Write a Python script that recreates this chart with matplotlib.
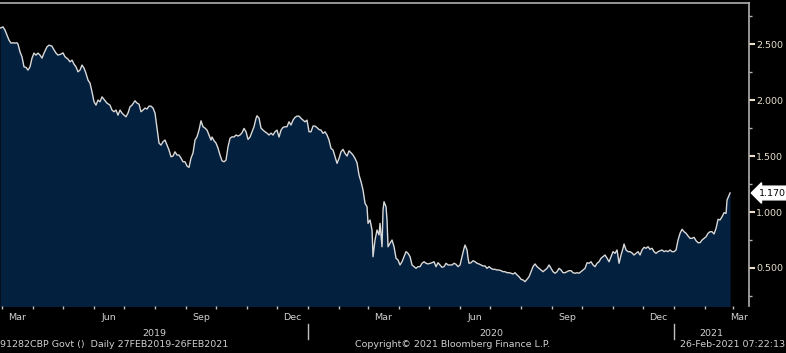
import numpy as np
import matplotlib
matplotlib.use("Agg")
import matplotlib.pyplot as plt
import matplotlib.dates as mdates
import matplotlib.transforms as mtransforms
from matplotlib.ticker import FuncFormatter, MultipleLocator

# Daily yield, 27FEB2019 - 26FEB2021
start_date = np.datetime64("2019-02-27")
day_offsets = [
    0, 3, 5, 7, 9, 11, 13, 15, 17, 18, 20, 22, 24, 26, 28, 30, 32, 34, 36, 38,
    40, 42, 44, 47, 49, 52, 53, 56, 58, 61, 63, 65, 68, 70, 72, 74, 76, 78, 80, 82,
    84, 86, 88, 90, 92, 94, 96, 98, 100, 102, 104, 107, 110, 112, 114, 116, 118, 120, 122, 124,
    126, 128, 130, 132, 135, 137, 139, 141, 143, 145, 147, 149, 151, 153, 155, 157, 159, 161, 163, 165,
    167, 169, 171, 173, 175, 177, 179, 181, 183, 185, 187, 189, 191, 193, 195, 197, 199, 201, 203, 205,
    207, 209, 211, 212, 214, 216, 218, 220, 222, 224, 226, 228, 230, 232, 234, 236, 238, 240, 242, 244,
    246, 248, 250, 252, 254, 256, 257, 259, 261, 263, 265, 267, 269, 271, 273, 275, 277, 279, 281, 283,
    285, 287, 289, 291, 293, 295, 297, 299, 301, 303, 305, 307, 309, 311, 313, 315, 317, 319, 321, 323,
    325, 327, 329, 331, 333, 335, 337, 339, 341, 343, 345, 347, 349, 351, 353, 355, 357, 359, 361, 363,
    365, 367, 368, 370, 372, 373, 375, 377, 379, 380, 382, 383, 384, 386, 387, 388, 390, 392, 394, 396,
    398, 400, 402, 404, 406, 408, 410, 412, 414, 416, 418, 420, 422, 424, 426, 428, 430, 432, 434, 436,
    438, 440, 442, 444, 446, 448, 450, 452, 454, 456, 458, 460, 462, 464, 465, 467, 468, 469, 471, 473,
    475, 477, 479, 481, 483, 485, 487, 489, 491, 493, 495, 497, 499, 501, 503, 505, 507, 509, 511, 513,
    515, 517, 519, 521, 523, 525, 527, 529, 531, 533, 535, 537, 539, 541, 543, 545, 547, 549, 551, 553,
    555, 557, 559, 561, 563, 565, 567, 569, 571, 573, 575, 577, 579, 581, 583, 585, 587, 589, 591, 593,
    595, 597, 599, 601, 603, 605, 607, 609, 611, 613, 615, 617, 619, 621, 623, 624, 626, 628, 630, 632,
    634, 636, 638, 640, 642, 644, 646, 648, 650, 652, 654, 656, 658, 660, 662, 664, 666, 668, 670, 672,
    674, 676, 678, 680, 682, 684, 686, 688, 690, 692, 694, 696, 698, 700, 702, 704, 706, 708, 710, 712,
    714, 716, 718, 720, 722, 724, 726, 727, 730,
]
yields = [
    2.643, 2.654, 2.625, 2.580, 2.536, 2.509, 2.512, 2.509, 2.512, 2.500, 2.431, 2.386, 2.297, 2.292, 2.268, 2.297, 2.375, 2.420, 2.402, 2.420,
    2.402, 2.375, 2.420, 2.476, 2.491, 2.482, 2.464, 2.420, 2.402, 2.411, 2.422, 2.387, 2.366, 2.342, 2.357, 2.321, 2.297, 2.253, 2.268, 2.313,
    2.286, 2.238, 2.179, 2.152, 2.074, 1.985, 1.955, 2.000, 1.985, 2.029, 2.006, 1.973, 1.955, 1.911, 1.896, 1.911, 1.866, 1.911, 1.884, 1.866,
    1.851, 1.884, 1.940, 1.955, 1.994, 1.973, 1.964, 1.896, 1.911, 1.929, 1.920, 1.946, 1.946, 1.929, 1.884, 1.750, 1.616, 1.598, 1.628, 1.643,
    1.598, 1.554, 1.494, 1.500, 1.538, 1.509, 1.509, 1.482, 1.449, 1.449, 1.411, 1.399, 1.482, 1.527, 1.643, 1.672, 1.732, 1.815, 1.762, 1.750,
    1.732, 1.688, 1.643, 1.670, 1.637, 1.616, 1.571, 1.509, 1.458, 1.449, 1.464, 1.583, 1.658, 1.672, 1.670, 1.688, 1.679, 1.688, 1.708, 1.747,
    1.717, 1.649, 1.670, 1.717, 1.762, 1.837, 1.860, 1.839, 1.750, 1.732, 1.717, 1.705, 1.688, 1.705, 1.688, 1.717, 1.732, 1.670, 1.732, 1.756,
    1.762, 1.762, 1.806, 1.777, 1.821, 1.846, 1.857, 1.857, 1.837, 1.821, 1.806, 1.821, 1.717, 1.717, 1.768, 1.768, 1.754, 1.737, 1.732, 1.703,
    1.717, 1.688, 1.643, 1.569, 1.554, 1.494, 1.435, 1.479, 1.538, 1.560, 1.524, 1.500, 1.547, 1.529, 1.509, 1.479, 1.440, 1.330, 1.271, 1.196,
    1.078, 1.047, 0.899, 0.929, 0.839, 0.601, 0.750, 0.839, 0.795, 0.899, 0.690, 1.018, 1.092, 1.047, 0.929, 0.690, 0.721, 0.750, 0.690, 0.587,
    0.571, 0.527, 0.556, 0.601, 0.646, 0.631, 0.601, 0.527, 0.512, 0.497, 0.512, 0.512, 0.542, 0.556, 0.542, 0.536, 0.542, 0.547, 0.556, 0.512,
    0.547, 0.527, 0.506, 0.512, 0.542, 0.527, 0.527, 0.527, 0.542, 0.533, 0.512, 0.527, 0.601, 0.676, 0.705, 0.661, 0.587, 0.542, 0.547, 0.565,
    0.556, 0.542, 0.536, 0.527, 0.518, 0.518, 0.497, 0.512, 0.497, 0.488, 0.488, 0.482, 0.482, 0.476, 0.467, 0.467, 0.458, 0.458, 0.453, 0.446,
    0.458, 0.438, 0.422, 0.399, 0.393, 0.378, 0.399, 0.422, 0.467, 0.512, 0.536, 0.512, 0.497, 0.482, 0.467, 0.482, 0.497, 0.527, 0.497, 0.467,
    0.453, 0.467, 0.497, 0.482, 0.458, 0.458, 0.467, 0.476, 0.476, 0.458, 0.453, 0.458, 0.453, 0.467, 0.482, 0.497, 0.547, 0.542, 0.556, 0.527,
    0.512, 0.542, 0.556, 0.587, 0.601, 0.616, 0.587, 0.556, 0.601, 0.646, 0.631, 0.661, 0.542, 0.616, 0.676, 0.714, 0.661, 0.646, 0.646, 0.634,
    0.616, 0.631, 0.646, 0.616, 0.661, 0.685, 0.676, 0.690, 0.667, 0.676, 0.646, 0.631, 0.646, 0.654, 0.661, 0.646, 0.654, 0.646, 0.661, 0.646,
    0.646, 0.661, 0.750, 0.810, 0.846, 0.824, 0.810, 0.786, 0.765, 0.765, 0.774, 0.744, 0.726, 0.726, 0.750, 0.765, 0.779, 0.810, 0.824, 0.824,
    0.804, 0.854, 0.935, 0.929, 0.958, 0.994, 0.988, 1.107, 1.170,
]
last_value = 1.170
shown_months = {3: "Mar", 6: "Jun", 9: "Sep", 12: "Dec"}
years = ["2019", "2020", "2021"]
footer_left = "91282CBP Govt ()  Daily 27FEB2019-26FEB2021"
footer_mid = "Copyright\u00a9 2021 Bloomberg Finance L.P."
footer_right = "26-Feb-2021 07:22:13"

dates = start_date + np.array(day_offsets).astype("timedelta64[D]")
x_end = start_date + np.timedelta64(749, "D")

fill_col = "#04203f"
line_col = "#d9d9d9"
text_col = "#d0d0d0"
tick_col = "#e8e0cc"
plt.rcParams["font.family"] = "DejaVu Sans"

fig = plt.figure(figsize=(7.86, 3.53), dpi=100, facecolor="black")
ax = fig.add_axes([0, 0.133, 0.953, 0.858], facecolor="black")

ax.fill_between(dates, yields, 0, color=fill_col, lw=0)
ax.plot(dates, yields, color=line_col, lw=1.0)

ax.set_xlim(start_date, x_end)
ax.set_ylim(0.16, 2.866)

for side in ["left", "bottom"]:
    ax.spines[side].set_visible(False)
for side in ["top", "right"]:
    ax.spines[side].set_color("#b0b0b0")
    ax.spines[side].set_linewidth(1.2)

# y axis on the right
ax.yaxis.tick_right()
ax.yaxis.set_major_locator(MultipleLocator(0.5))
ax.yaxis.set_minor_locator(MultipleLocator(0.25))
ax.yaxis.set_major_formatter(FuncFormatter(lambda v, p: f"{v:.3f}"))
ax.tick_params(axis="y", which="major", length=4, width=1.5, color=tick_col,
               labelcolor=tick_col, labelsize=6.8, pad=1)
ax.tick_params(axis="y", which="minor", length=2, width=1, color="#b0b0b0")

# x axis: tick at each month start, label mid-month
ax.xaxis.set_major_locator(mdates.MonthLocator())
ax.xaxis.set_major_formatter(FuncFormatter(lambda v, p: ""))
ax.xaxis.set_minor_locator(mdates.MonthLocator(bymonthday=16))
ax.xaxis.set_minor_formatter(
    FuncFormatter(lambda v, p: shown_months.get(mdates.num2date(v).month, "")))
ax.tick_params(axis="x", which="major", length=2, width=1, color="#c0c0c0")
ax.tick_params(axis="x", which="minor", length=0, labelcolor=text_col,
               labelsize=6.8, pad=5)

# year labels and separators
trans = mtransforms.blended_transform_factory(ax.transData, ax.transAxes)
year_starts = [start_date, np.datetime64("2020-01-01"), np.datetime64("2021-01-01"), x_end]
for i, yr in enumerate(years):
    a = mdates.date2num(year_starts[i])
    b = mdates.date2num(year_starts[i + 1])
    ax.text((a + b) / 2, -0.09, yr, transform=trans, ha="center", va="center",
            color=text_col, fontsize=6.8)
for d in year_starts[1:3]:
    ax.plot([d, d], [-0.06, -0.11], transform=trans, color="#c0c0c0",
            lw=1, clip_on=False)

# last value tag
ax.annotate(f"{last_value:.3f}", xy=(1.0, last_value),
            xycoords=("axes fraction", "data"), xytext=(7, 0),
            textcoords="offset points", ha="left", va="center",
            fontsize=6.8, color="black",
            bbox=dict(boxstyle="larrow,pad=0.25", fc="white", ec="white"))

fig.text(0.0, 0.024, footer_left, color=text_col, fontsize=6.8, ha="left", va="center")
fig.text(0.452, 0.024, footer_mid, color=text_col, fontsize=6.8, ha="left", va="center")
fig.text(0.999, 0.024, footer_right, color=text_col, fontsize=6.8, ha="right", va="center")

# the last month label sits against the right edge
fig.canvas.draw()
xmax = mdates.date2num(x_end)
for lab in ax.xaxis.get_minorticklabels():
    if lab.get_text() and xmax - lab.get_position()[0] < 8:
        lab.set_ha("right")

fig.savefig("out.png", dpi=100, facecolor="black")
